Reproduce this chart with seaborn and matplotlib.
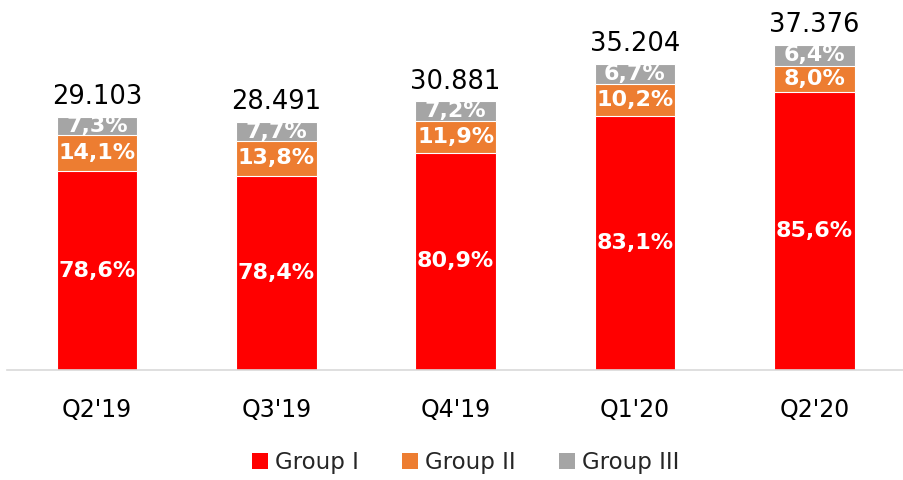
import numpy as np
import pandas as pd
import matplotlib
matplotlib.use("Agg")
import matplotlib.pyplot as plt
import seaborn as sns
from matplotlib.patches import Patch

# data
quarters = ["Q2'19", "Q3'19", "Q4'19", "Q1'20", "Q2'20"]
totals = [29.103, 28.491, 30.881, 35.204, 37.376]
total_labels = ["29.103", "28.491", "30.881", "35.204", "37.376"]
group1_pct = [78.6, 78.4, 80.9, 83.1, 85.6]
group2_pct = [14.1, 13.8, 11.9, 10.2, 8.0]
group3_pct = [7.3, 7.7, 7.2, 6.7, 6.4]
groups = ["Group I", "Group II", "Group III"]
colors = ["#FF0000", "#ED7D31", "#A5A5A5"]

sns.set_theme(style="white")
plt.rcParams['font.family'] = ['DejaVu Sans']

tot = np.array(totals)
pcts = np.array([group1_pct, group2_pct, group3_pct])
pcts = pcts / pcts.sum(axis=0) * 100
seg = tot * pcts / 100
cum = np.cumsum(seg, axis=0)

df = pd.DataFrame({"quarter": quarters})
for i, g in enumerate(groups):
    df[g] = cum[i]

fig = plt.figure(figsize=(9.04, 4.8), dpi=100)
ax = fig.add_axes([0.008, 0.229, 0.992, 0.771])

# draw from the top of the stack down so lower groups sit in front
for i in [2, 1, 0]:
    sns.barplot(data=df, x="quarter", y=groups[i], color=colors[i], width=0.45,
                edgecolor="white", linewidth=0.8, saturation=1, ax=ax)

ax.set_ylim(0, 37.376 * 370 / 325)
ax.set_xlim(-0.5, 4.5)
ax.set_xlabel("")
ax.set_ylabel("")
ax.set_yticks([])
ax.tick_params(axis="x", length=0, labelsize=17, pad=20, colors="#000000")
for s in ["top", "right", "left"]:
    ax.spines[s].set_visible(False)
ax.spines["bottom"].set_color("#D9D9D9")
ax.spines["bottom"].set_linewidth(1.2)

labels_pct = [group1_pct, group2_pct, group3_pct]
for j in range(len(quarters)):
    bottom = 0
    for i in range(3):
        mid = bottom + seg[i, j] / 2
        txt = f"{labels_pct[i][j]:.1f}".replace(".", ",") + "%"
        ax.text(j, mid, txt, ha="center", va="center", color="white",
                fontsize=16, fontweight="bold")
        bottom += seg[i, j]
    ax.text(j, tot[j] + 0.8, total_labels[j], ha="center", va="bottom",
            fontsize=18.5, color="black")

handles = [Patch(facecolor=c, edgecolor="none") for c in colors]
fig.legend(handles, groups, loc="center", bbox_to_anchor=(0.515, 0.037), ncol=3,
           frameon=False, fontsize=16.5, handlelength=0.7, handleheight=0.7,
           handletextpad=0.3, columnspacing=1.9)

fig.savefig("out.png", dpi=100)
